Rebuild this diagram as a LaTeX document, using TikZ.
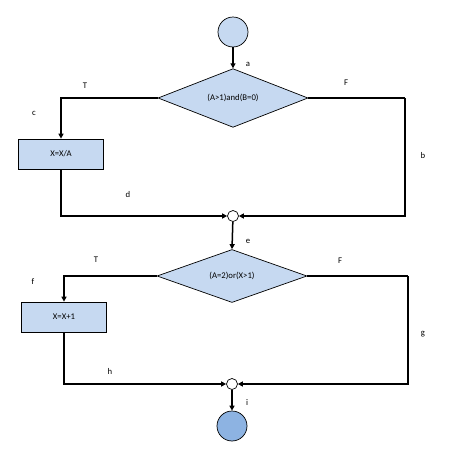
\documentclass[tikz,border=0pt]{standalone}
\usepackage{fontspec}
\setmainfont{Carlito}
\usetikzlibrary{shapes.geometric,arrows.meta}
\definecolor{lblue}{HTML}{C6D9F1}
\definecolor{dblue}{HTML}{8DB3E2}
\begin{document}
\begin{tikzpicture}[x=1pt,y=-1pt,
  font=\fontsize{8.7}{10}\selectfont,
  shapeln/.style={draw=black,line width=0.7pt},
  dec/.style={shapeln,diamond,fill=lblue,inner sep=0pt,minimum width=150pt,minimum height=53pt},
  proc/.style={shapeln,rectangle,fill=lblue,inner sep=0pt,minimum width=85pt,minimum height=30pt},
  term/.style={shapeln,circle,inner sep=0pt,minimum size=30pt},
  junc/.style={shapeln,circle,fill=white,inner sep=0pt,minimum size=11pt},
  conn/.style={line width=1.5pt,-{Triangle[length=5pt,width=5pt]}},
  plain/.style={line width=1.5pt},
  lbl/.style={inner sep=0pt}]
\useasboundingbox (0,0) rectangle (475,458);
% nodes
\node[term,fill=lblue] (start) at (233,32) {};
\node[dec] (d1) at (233,98) {(A>1)and(B=0)};
\node[proc] (b1) at (61,154) {X=X/A};
\node[junc] (j1) at (233,216) {};
\coordinate (cr1) at (405,98);
\node[dec] (d2) at (232,276) {(A=2)or(X>1)};
\node[proc] (b2) at (64,317) {X=X+1};
\node[junc] (j2) at (232,384) {};
\coordinate (cr2) at (408,276);
\node[term,fill=dblue] (stop) at (232,426) {};
% connectors
\draw[conn] (start) -- (d1.north);
\draw[conn] (d1.west) -| (b1.north);
\draw[conn] (b1.south) |- (j1.west);
\draw[plain] (d1.east) -- (cr1);
\draw[conn] (cr1) |- (j1.east);
\draw[conn] (j1) -- (d2.north);
\draw[conn] (d2.west) -| (b2.north);
\draw[conn] (b2.south) |- (j2.west);
\draw[plain] (d2.east) -- (cr2);
\draw[conn] (cr2) |- (j2.east);
\draw[conn] (j2) -- (stop);
% labels
\node[lbl] (la) at (248,64) {a};
\node[lbl] (lT1) at (85,86) {T};
\node[lbl] (lF1) at (346,83) {F};
\node[lbl] (lc) at (34,113) {c};
\node[lbl] (lb) at (423,156) {b};
\node[lbl] (ld) at (128,195) {d};
\node[lbl] (le) at (248,241) {e};
\node[lbl] (lT2) at (96,260) {T};
\node[lbl] (lF2) at (340,261) {F};
\node[lbl] (lf) at (33,282) {f};
\node[lbl] (lg) at (423,334) {g};
\node[lbl] (lh) at (110,371) {h};
\node[lbl] (li) at (247,403) {i};
\end{tikzpicture}
\end{document}
